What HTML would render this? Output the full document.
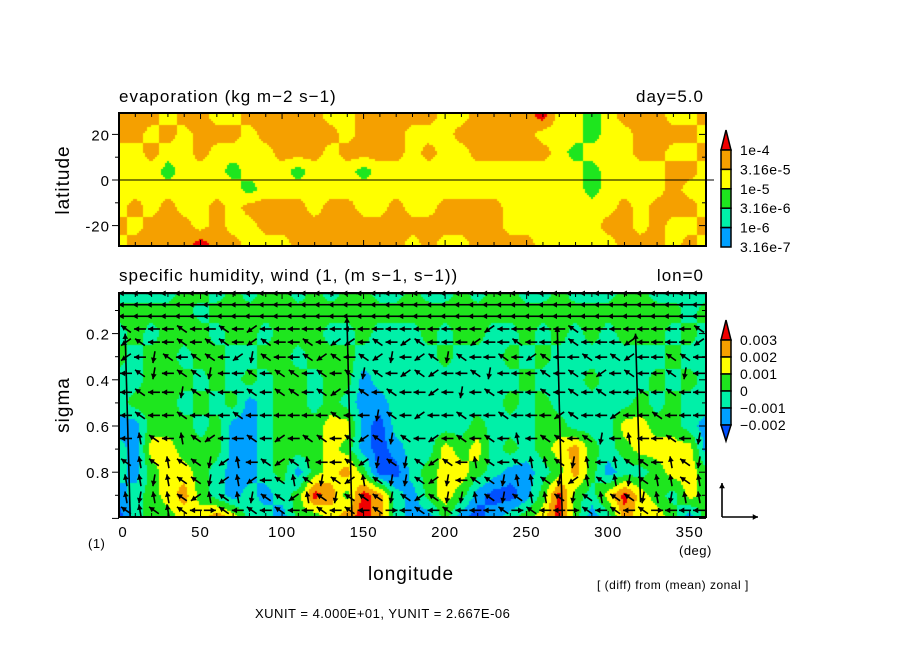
<!DOCTYPE html>
<html><head><meta charset="utf-8">
<style>
html,body{margin:0;padding:0;background:#fff;}
#wrap{position:relative;width:904px;height:654px;overflow:hidden;font-family:"Liberation Sans",sans-serif;}
canvas{position:absolute;}
svg{position:absolute;left:0;top:0;}
text{font-family:"Liberation Sans",sans-serif;fill:#000;}
</style></head>
<body>
<div id="wrap">
<canvas id="evap" width="587" height="133" style="left:119px;top:113px"></canvas>
<canvas id="hum" width="587" height="224" style="left:119px;top:293px"></canvas>
<svg id="svg" width="904" height="654"></svg>
</div>
<script>
// ---- data ----
const evapLats = [28,20,12,4,-4,-12,-20,-28];
const evapLevels = [
"4443443344444334444433444453323444334",
"4434344434444434443334444433323344443",
"3343343333444344443433444443233344334",
"3332333233323332333333333333323333443",
"3333333323333333333333333333323333433",
"3434334344443443343344443333333434443",
"4344434334444444444444443333334434334",
"3444454433344444443433444433333444343"];
const humSigma = [0.03,0.1,0.2,0.3,0.4,0.5,0.6,0.7,0.8,0.9,0.99];
const humLevels = [
"ccccddcdcddcdcddccdccdcddccdcccddcccc",
"dddddcdddddddddddddddddddddddddddddcd",
"cdcdddcddcdddccdcccdcddccdcdcdcdddcdc",
"dcddcddccddcdddcccccdcccdcdcccccccdcc",
"ccdddcdcdcddcddbcccccccccdcccdcccdcdc",
"cdddcdcdbcddcdcbbcccccccdcdcccccdcdcc",
"bbdddcdbbcdddeebacccccdcccddccceeddcb",
"cbeedddbbcdddedbabccedecdcdefdcdeeeeb",
"cbdeedcbbcdbdefdaacdeedcbbcdfdbccdeed",
"bcdefdcbcbcdgfdgfcbdedbaabdgdcegedced",
"acddeefeccbddefgfcbbdbabcdegdbcfeedbd"];
const arrowSigma = [0.026,0.075,0.125,0.18,0.237,0.302,0.372,0.454,0.554,0.654,0.757,0.835,0.909,0.965];
const arrowDirs = [
"llllllllllllllllllllllllllllllllllllllllll",
"llllllllllllllllllllllllllllllllllllllllll",
"llllllllllllllllllllllllllllllllllllllllll",
"qlllqllqlzllllllllllllllllzlllllqllllllllq",
"zqllqlqqlzqllqlzzlqlzqlllzllqlllqlllzllllz",
"zldqlqqlzdqllqzqlqzdlzqdqllqlzqllqlqzllqql",
"lqdlqqdllqlqqlqlqdqlzqzllqdlllqlqlzlqllqdl",
"lqlldqqllqlqqlqzlqlqllzldlqlllqlqlqllqlqll",
"lqllqlllqllllllqlldqlzllqllqlllzqllzllqlll",
"luqluqzllqlzlqqlqzqdqlzlqlqlulqqlqdlullqld",
"ququqqdzulqzqullqzdqdqzqluqlquuqduluqqluqd",
"uuduqqdzuzlquqdqzuqddqzdlqqduuqdzuqudquuqu",
"uduuqzuqudqqzuqdqqqdqzqdduqdquuqdquqqduduu",
"ququqlrqlqlqllqlqlqrlqlqlllqrqllrqlqlqrlll"];
const longLon = [5,141,270,318];
const longTop = [0.2,0.13,0.17,0.2];
const longBot = [0.99,0.99,0.99,0.93];
const lonTicks = [0,50,100,150,200,250,300,350];
const latTicks = [20,0,-20];
const sigTicks = [0.2,0.4,0.6,0.8];
const evapBarLabels = ["1e-4","3.16e-5","1e-5","3.16e-6","1e-6","3.16e-7"];
const humBarLabels = ["0.003","0.002","0.001","0","\u22120.001","\u22120.002"];

// ---- axes ----
const X0=119,X1=706;
const xLon = l => X0 + (X1-X0)*l/360;
const yLat = v => 180 - v*2.28;
const ySig = s => 287.4 + 231*s;

const evapColors=["#00a0ff","#00f0a8","#1ee61e","#ffff00","#f5a000","#f00000"];
const humColors=["#0050ff","#00a0ff","#00f0a8","#1ee61e","#ffff00","#f5a000","#f00000"];
const humMap={a:-2.5,b:-1.5,c:-0.5,d:0.5,e:1.5,f:2.5,g:3.5};

function interp(rows,coords,toVal,fx,fy){
  let i=0; while(i<coords.length-2 && ((coords[1]>coords[0])? fy>coords[i+1] : fy<coords[i+1])) i++;
  let t=(fy-coords[i])/(coords[i+1]-coords[i]); t=Math.max(0,Math.min(1,t));
  const v=r=>{const s=rows[r];const n=s.length-1;const p=fx/360*n;const j=Math.min(n-1,Math.floor(p));const u=p-j;return toVal(s[j])*(1-u)+toVal(s[j+1])*u;};
  return v(i)*(1-t)+v(i+1)*t;
}
function drawField(id,rows,coords,toVal,yInv,colorFor,top){
  const c=document.getElementById(id),ctx=c.getContext('2d');
  const W=c.width,H=c.height,step=2;
  for(let py=0;py<H;py+=step)for(let px=0;px<W;px+=step){
    const lon=(px+1)/W*360; const yy=yInv(top+py+1);
    const v=interp(rows,coords,toVal,lon,yy);
    ctx.fillStyle=colorFor(v); ctx.fillRect(px,py,step,step);
  }
}
drawField('evap',evapLevels,evapLats,ch=>+ch,y=>(180-y)/2.28,
  v=>evapColors[Math.max(0,Math.min(5,Math.floor(v+0.5)))],113);
drawField('hum',humLevels,humSigma,ch=>humMap[ch],y=>(y-287.4)/231,
  v=>humColors[Math.max(0,Math.min(6,Math.floor(v)+3))],293);

// ---- svg ----
const NS="http://www.w3.org/2000/svg",svg=document.getElementById('svg');
function el(tag,attrs,parent){const e=document.createElementNS(NS,tag);for(const k in attrs)e.setAttribute(k,attrs[k]);(parent||svg).appendChild(e);return e;}
function txt(x,y,s,size,anchor,name){const t=el('text',{x:x,y:y,'font-size':size,'text-anchor':anchor||'start','letter-spacing':size>=15?1:0.5});t.textContent=s;


return t;}

// frames
const f1=el('rect',{x:X0,y:113,width:X1-X0,height:133,fill:'none',stroke:'#000','stroke-width':2});


const eq=el('line',{x1:X0,x2:X1+8,y1:yLat(0),y2:yLat(0),stroke:'#000','stroke-width':1});


const f2=el('rect',{x:X0,y:293,width:X1-X0,height:224,fill:'none',stroke:'#000','stroke-width':2});



// ticks
for(let l=0;l<=360;l+=10){
  const big=l%50===0, x=xLon(l), len=big?6:4;
  el('line',{x1:x,x2:x,y1:246,y2:246-len,stroke:'#000'});
  el('line',{x1:x,x2:x,y1:113,y2:113+len,stroke:'#000'});
  el('line',{x1:x,x2:x,y1:517,y2:517-len,stroke:'#000'});
  el('line',{x1:x,x2:x,y1:293,y2:293+len,stroke:'#000'});
}
for(let v=-20;v<=20;v+=10){const y=yLat(v);const len=v%20===0?7:4;
  el('line',{x1:X0,x2:X0-len,y1:y,y2:y,stroke:'#000'});el('line',{x1:X1,x2:X1-len,y1:y,y2:y,stroke:'#000'});}
for(let s=0.1;s<1;s+=0.1){const y=ySig(s);const big=Math.round(s*10)%2===0;const len=big?7:4;
  el('line',{x1:X0,x2:X0-len,y1:y,y2:y,stroke:'#000'});el('line',{x1:X1,x2:X1-len,y1:y,y2:y,stroke:'#000'});}
lonTicks.forEach(l=>txt(xLon(l)+(l===0?4:0),537,String(l),15,'middle','x-tick-label'));
latTicks.forEach(v=>txt(110,yLat(v)+6,String(v),15,'end','y-tick-label'));
sigTicks.forEach(s=>txt(110,ySig(s)+6,s.toFixed(1),15,'end','sigma-tick-label'));

// titles
txt(119,102,"evaporation (kg m\u22122 s\u22121)",17,'start','evaporation-title');
txt(704,102,"day=5.0",17,'end','day-label');
txt(119,281,"specific humidity, wind (1, (m s\u22121, s\u22121))",17,'start','humidity-title');
txt(704,281,"lon=0",17,'end','lon-label');
const yl=txt(0,0,"latitude",19,'middle','latitude-axis-title');yl.setAttribute('transform','translate(69,180) rotate(-90)');
const ys=txt(0,0,"sigma",19,'middle','sigma-axis-title');ys.setAttribute('transform','translate(69,405) rotate(-90)');
txt(411,580,"longitude",19,'middle','x-axis-title');
txt(88,548,"(1)",13,'start','unit-one-label');
txt(679,555,"(deg)",13,'start','deg-label');
txt(597,589,"[ (diff) from (mean) zonal ]",12,'start','diff-note');
txt(255,618,"XUNIT = 4.000E+01, YUNIT = 2.667E-06",13,'start','unit-note');

// arrows
function arrow(x1,y1,x2,y2,name){
  const g=el('g',{});
  
  
  el('line',{x1:x1,y1:y1,x2:x2,y2:y2,stroke:'#000','stroke-width':1.6},g);
  const a=Math.atan2(y2-y1,x2-x1),h=6;
  const p=[[x2,y2],[x2-h*Math.cos(a-0.5),y2-h*Math.sin(a-0.5)],[x2-h*Math.cos(a+0.5),y2-h*Math.sin(a+0.5)]];
  el('polygon',{points:p.map(q=>q.join(',')).join(' '),fill:'#000'},g);
}
const dirAng={l:180,q:215,z:145,u:260,d:100,r:0,e:315,c:45};
arrowSigma.forEach((s,ri)=>{
  const str=arrowDirs[ri]; const n=str.length; const y=ySig(s);
  const L= ri<3?15:12;
  for(let j=0;j<n;j++){
    const lon=(j+0.5)*360/n; const x=xLon(lon); const a=dirAng[str[j]]*Math.PI/180;
    const dx=Math.cos(a)*L/2, dy=Math.sin(a)*L/2;
    arrow(x-dx,y-dy,x+dx,y+dy,'wind-vector');
  }
});
longLon.forEach((l,i)=>{arrow(xLon(l)+3,ySig(longBot[i]),xLon(l)-2,ySig(longTop[i]),'strong-wind-vector');});

// reference vector
arrow(722,517,722,483,'reference-vector-vertical');
arrow(722,517,758,517,'reference-vector-horizontal');

// colorbars
function colorbar(x,top,blocks,colors,triTop,triBot,name){
  const g=el('g',{});
  
  
  const w=10;
  el('polygon',{points:`${x},${top} ${x+w/2},${top-20} ${x+w},${top}`,fill:triTop,stroke:'#000','stroke-width':1.5},g);
  colors.forEach((c,i)=>el('rect',{x:x,y:top+i*blocks,width:w,height:blocks,fill:c,stroke:'#000','stroke-width':1.5},g));
  if(triBot){const b=top+colors.length*blocks;el('polygon',{points:`${x},${b} ${x+w/2},${b+16} ${x+w},${b}`,fill:triBot,stroke:'#000','stroke-width':1.5},g);}
}
colorbar(721,150,19.4,["#f5a000","#ffff00","#1ee61e","#00f0a8","#00a0ff"],"#f00000",null,'evaporation-colorbar');
evapBarLabels.forEach((s,i)=>txt(740,150+i*19.4+5,s,14,'start','evap-colorbar-label'));
colorbar(721,340,17,["#f5a000","#ffff00","#1ee61e","#00f0a8","#00a0ff"],"#f00000","#0050ff",'humidity-colorbar');
humBarLabels.forEach((s,i)=>txt(740,340+i*17+5,s,14,'start','humidity-colorbar-label'));
</script>
</body></html>
